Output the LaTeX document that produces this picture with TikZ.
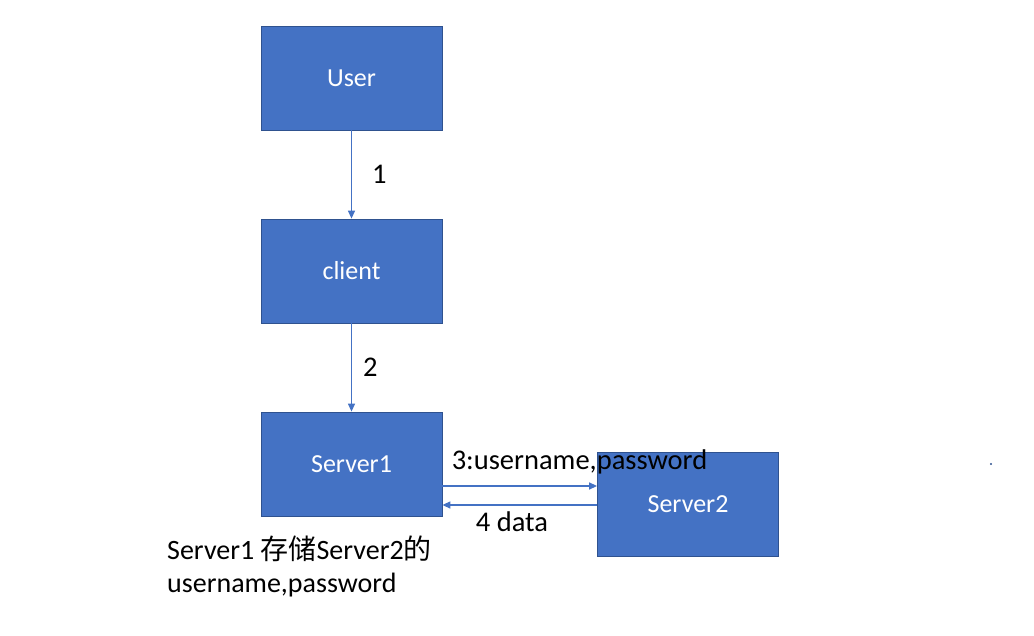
\documentclass[tikz,border=0pt]{standalone}
\usepackage{fontspec}
\setmainfont{Carlito}
\newfontfamily\cjk{Noto Sans CJK SC}
\usetikzlibrary{arrows.meta,calc}
\definecolor{boxblue}{HTML}{4472C4}
\definecolor{boxedge}{HTML}{2F528F}
\begin{document}
\begin{tikzpicture}[x=1pt,y=-1pt,
  box/.style={draw=boxedge,line width=0.8pt,fill=boxblue,minimum width=181pt,minimum height=104pt,inner sep=0pt,text=white,font=\fontsize{26}{30}\selectfont},
  arr/.style={draw=boxblue,line width=1.3pt,-{Triangle[length=8pt,width=7pt]}},
  lbl/.style={text=black,inner sep=0pt,font=\fontsize{28.5}{32}\selectfont}]
\useasboundingbox (0,0) rectangle (1034,636);
\node[box] (user) at (351.5,78) {User};
\node[box] (client) at (351.5,271) {client};
\node[box] (s1) at (351.5,464) {Server1};
\node[box] (s2) at (688,504) {Server2};
\draw[arr] (user) -- (client) node[lbl,midway,right=20pt] (l1) {1};
\draw[arr] (client) -- (s1) node[lbl,midway,right=11pt] (l2) {2};
\draw[arr] (s1.east |- 0,486) -- (s2.west |- 0,486);
\draw[arr] (s2.west |- 0,505) -- (s1.east |- 0,505);
\node[lbl] (l3) at (579.5,462) {3:username,password};
\node[lbl] (l4) at (512,522) {4 data};
\node[lbl,anchor=north west,align=left,font=\fontsize{28}{33}\selectfont] (note) at (167,536) {Server1 {\cjk 存储}Server2{\cjk 的}\\username,password};
\fill[boxedge] (991,464) circle (1.2pt);
\end{tikzpicture}
\end{document}
